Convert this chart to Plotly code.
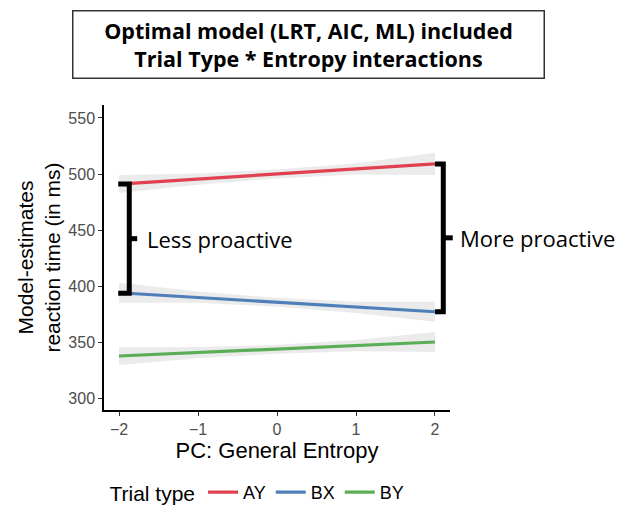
import plotly.graph_objects as go

# ---- data ----
trial_types = ["AY", "BX", "BY"]
colors = ["#E0404F", "#4F7FB8", "#5AAE55"]
x_line = [-2, 2]
ay_fit = [491, 509]
bx_fit = [394, 377]
by_fit = [337.5, 350]

x_ci = [-2, -1, 0, 1, 2]
ay_lo = [483, 490.5, 496, 499.5, 499]
ay_hi = [499, 500.5, 504, 509.5, 519]
bx_lo = [385, 385, 381.5, 376, 368]
bx_hi = [403, 395, 389.5, 386, 386]
by_lo = [329.5, 335.5, 339.5, 341.8, 341]
by_hi = [345.5, 345.5, 347.5, 351.8, 359]

x_ticks = [-2, -1, 0, 1, 2]
x_tick_labels = ["\u22122", "\u22121", "0", "1", "2"]
y_ticks = [300, 350, 400, 450, 500, 550]

fits = [ay_fit, bx_fit, by_fit]
los = [ay_lo, bx_lo, by_lo]
his = [ay_hi, bx_hi, by_hi]

X_RANGE = [-2.19, 2.19]
Y_RANGE = [289.3, 561.6]

def xp(v):
    return (v - X_RANGE[0]) / (X_RANGE[1] - X_RANGE[0])

def yp(v):
    return (v - Y_RANGE[0]) / (Y_RANGE[1] - Y_RANGE[0])

fig = go.Figure()
for name, col, fit, lo, hi in zip(trial_types, colors, fits, los, his):
    fig.add_trace(go.Scatter(x=x_ci + x_ci[::-1], y=hi + lo[::-1], fill="toself", mode="lines",
                             fillcolor="rgba(200,200,200,0.36)", line=dict(width=0),
                             hoverinfo="skip", showlegend=False))
for name, col, fit in zip(trial_types, colors, fits):
    fig.add_trace(go.Scatter(x=x_line, y=fit, mode="lines", name=name,
                             line=dict(color=col, width=3.2)))

# brackets
lb_x0, lb_xv, lb_xt = -2.01, -1.87, -1.77
lb_top, lb_bot = ay_fit[0], bx_fit[0] - 0.5
lb_mid = (lb_top + lb_bot) / 2
rb_x0, rb_xv, rb_xt = 2.0, 2.105, 2.19
rb_top, rb_bot = ay_fit[1], bx_fit[1]
rb_mid = (rb_top + rb_bot) / 2
shapes = [
    dict(type="path", xref="x", yref="y",
         path=f"M {lb_x0},{lb_top} L {lb_xv},{lb_top} L {lb_xv},{lb_bot} L {lb_x0},{lb_bot}",
         line=dict(color="black", width=5)),
    dict(type="line", xref="x", yref="y", x0=lb_xv, x1=lb_xt, y0=lb_mid, y1=lb_mid,
         line=dict(color="black", width=5)),
    dict(type="path", xref="x", yref="y",
         path=f"M {rb_x0},{rb_top} L {rb_xv},{rb_top} L {rb_xv},{rb_bot} L {rb_x0},{rb_bot}",
         line=dict(color="black", width=5)),
    dict(type="line", xref="paper", yref="y", x0=xp(rb_xv), x1=xp(2.225), y0=rb_mid, y1=rb_mid,
         line=dict(color="black", width=5)),
]

annotations = [
    dict(text="Less proactive", x=xp(-1.67), y=yp(lb_mid), xref="paper", yref="paper",
         xanchor="left", yanchor="middle", showarrow=False,
         font=dict(family="Open Sans", size=22, color="black")),
    dict(text="More proactive", x=xp(2.29), y=yp(rb_mid), xref="paper", yref="paper",
         xanchor="left", yanchor="middle", showarrow=False,
         font=dict(family="Open Sans", size=22, color="black")),
    dict(text="<b>Optimal model (LRT, AIC, ML) included<br>Trial Type * Entropy interactions</b>",
         x=0.5896, y=1.2, xref="paper", yref="paper", xanchor="center", yanchor="middle",
         showarrow=False, align="center", width=466, height=62,
         bordercolor="#333333", borderwidth=1.5, borderpad=2, bgcolor="white",
         font=dict(family="Open Sans", size=21.5, color="black")),
]

fig.update_layout(
    width=624, height=506,
    margin=dict(l=104, r=174, t=105, b=96, autoexpand=False),
    paper_bgcolor="white", plot_bgcolor="white",
    font=dict(family="Liberation Sans", color="black"),
    shapes=shapes, annotations=annotations,
    showlegend=True,
    legend=dict(orientation="h", x=0.01, y=-0.272, xanchor="left", yanchor="middle",
                title=dict(text="Trial type", font=dict(size=21, color="black")),
                font=dict(size=18, color="black"), itemwidth=30),
    xaxis=dict(range=X_RANGE, tickvals=x_ticks, ticktext=x_tick_labels,
               showgrid=False, zeroline=False, showline=True, linecolor="black", linewidth=1.5,
               ticks="outside", ticklen=4, tickcolor="#333333", tickwidth=1.2,
               tickfont=dict(size=16, color="#4D4D4D"),
               title=dict(text="PC: General Entropy", font=dict(size=22, color="black"), standoff=6)),
    yaxis=dict(range=Y_RANGE, tickvals=y_ticks,
               showgrid=False, zeroline=False, showline=True, linecolor="black", linewidth=1.5,
               ticks="outside", ticklen=4, tickcolor="#333333", tickwidth=1.2,
               tickfont=dict(size=16, color="#4D4D4D"),
               title=dict(text="Model-estimates<br>reaction time (in ms)",
                          font=dict(size=21, color="black"), standoff=2)),
)

fig.write_html("out.html")
